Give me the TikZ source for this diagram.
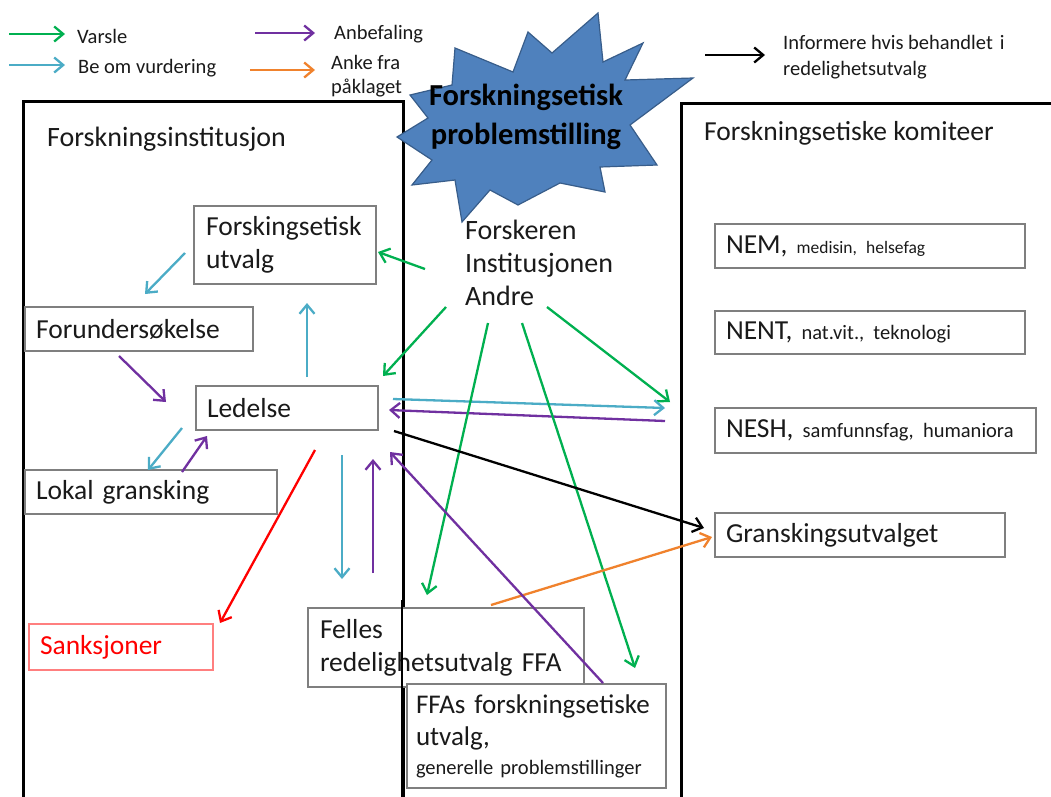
\documentclass[tikz,border=0pt]{standalone}
\usepackage{fontspec}
\setmainfont{Carlito}
\usetikzlibrary{arrows.meta}
\definecolor{cgreen}{HTML}{00B050}
\definecolor{ccyan}{HTML}{4BACC6}
\definecolor{cpurple}{HTML}{7030A0}
\definecolor{corange}{HTML}{F0822D}
\definecolor{cred}{HTML}{FF0000}
\definecolor{redborder}{HTML}{FF7F7F}
\definecolor{starblue}{HTML}{4F81BD}
\definecolor{stardark}{HTML}{385D8A}
\definecolor{boxgray}{HTML}{7F7F7F}
\definecolor{txt}{HTML}{1A1A1A}
\newcommand\fsz[2]{\fontsize{#1}{#2}\selectfont}
\frenchspacing
\begin{document}
\begin{tikzpicture}[x=1pt,y=-1pt,
  arr/.style={line width=2.3pt,-{Straight Barb[length=9pt,width=15pt]}},
  box/.style={draw=boxgray,line width=1.3pt,fill=white,rectangle,align=left,
    inner xsep=11pt,inner ysep=0pt,text=txt,font=\fsz{27.5}{33}},
  frame/.style={draw=black,line width=2.6pt},
  lbl/.style={anchor=west,inner sep=0pt,align=left,text=txt}
]
\useasboundingbox (0,0) rectangle (1051,796);
\fill[white] (0,0) rectangle (1051,796);

% ---------- legend ----------
\coordinate (lgs) at (9,34);   \coordinate (lge) at (65,34);
\coordinate (lcs) at (9,65);   \coordinate (lce) at (65,65);
\coordinate (lps) at (255,33); \coordinate (lpe) at (315,33);
\coordinate (los) at (250,70); \coordinate (loe) at (315,70);
\coordinate (lks) at (705,55); \coordinate (lke) at (765,55);
\draw[arr,cgreen] (lgs) -- (lge);
\draw[arr,ccyan] (lcs) -- (lce);
\draw[arr,cpurple] (lps) -- (lpe);
\draw[arr,corange] (los) -- (loe);
\draw[arr,black] (lks) -- (lke);
\node[lbl,font=\fsz{20.5}{24}] (tvarsle) at (77,36) {Varsle};
\node[lbl,font=\fsz{20.5}{24}] (tbeom) at (78,68) {Be om vurdering};
\node[lbl,font=\fsz{20.5}{24}] (tanbef) at (334,34) {Anbefaling};
\node[lbl,font=\fsz{20.5}{24}] (tanke) at (331,76) {Anke fra\\påklaget};
\node[lbl,font=\fsz{20.5}{26}] (tinfo) at (783,57) {Informere hvis behandlet\hspace{7pt}i\\redelighetsutvalg};

% ---------- frames ----------
\node[frame,anchor=north west,minimum width=380pt,minimum height=720pt,inner sep=0pt] (inst) at (22,100) {};
\node[frame,anchor=north west,minimum width=400pt,minimum height=720pt,inner sep=0pt] (kom) at (680,102) {};
\node[lbl,font=\fsz{28}{30}] (tinst) at (47,139) {Forskningsinstitusjon};
\node[lbl,font=\fsz{27.5}{30}] (tkom) at (704,133) {Forskningsetiske komiteer};

% ---------- star ----------
\draw[fill=starblue,draw=stardark,line width=1.2pt]
  (598,13) -- (603,62) -- (643,43) -- (625,80) -- (693,78) -- (630,125)
  -- (657,165) -- (600,167) -- (605,192) -- (560,183) -- (518,205)
  -- (490,190) -- (462,222) -- (455,180) -- (412,185) -- (432,160)
  -- (397,137) -- (428,118) -- (410,95) -- (452,85) -- (455,48)
  -- (513,72) -- (528,32) -- (552,53) -- cycle;
\node[align=center,inner sep=0pt,font=\fsz{30.5}{39}\bfseries,text=black] (tstar) at (526,117)
  {Forskningsetisk\\problemstilling};

% ---------- boxes ----------
\node[box,minimum width=182pt,minimum height=78pt,text width=158pt,inner xsep=12pt] (fu) at (285,245) {Forskingsetisk\\utvalg};
\node[box,minimum width=228pt,minimum height=44pt,text width=206pt] (fo) at (139,329) {Forundersøkelse};
\node[box,minimum width=182pt,minimum height=44pt,text width=160pt] (le) at (287,408) {Ledelse};
\node[box,minimum width=252pt,minimum height=44pt,text width=230pt] (lg) at (151,492) {Lokal gransking};
\node[box,draw=redborder,text=cred,minimum width=184pt,minimum height=46pt,text width=162pt] (sa) at (121,647) {Sanksjoner};
\node[box,minimum width=274pt,minimum height=79pt,text width=252pt,inner xsep=12pt] (fe) at (446,647.5) {Felles\\redelighetsutvalg FFA};
\draw[line width=2.6pt] (402,600) -- (402,800);
\node[box,font=\fsz{27}{32},minimum width=259pt,minimum height=104pt,text width=241pt,inner xsep=9pt] (ff) at (536.5,736)
  {FFAs forskningsetiske\\utvalg,\\[-3pt]{\fsz{20.5}{24}generelle\hspace{7pt}problemstillinger}};
\node[lbl,font=\fsz{28}{33}] (tfa) at (465,263) {Forskeren\\Institusjonen\\Andre};

\node[box,minimum width=310pt,minimum height=44pt,text width=288pt] (nem) at (870,246)
  {NEM, {\fsz{17.5}{20}medisin, helsefag}};
\node[box,minimum width=310pt,minimum height=43pt,text width=288pt] (nent) at (870,332.5)
  {NENT, {\fsz{20.5}{24}nat.vit., teknologi}};
\node[box,minimum width=321pt,minimum height=45pt,text width=299pt] (nesh) at (875.5,430.5)
  {NESH, {\fsz{20.5}{24}samfunnsfag, humaniora}};
\node[box,minimum width=290pt,minimum height=44pt,text width=268pt] (gr) at (860,535) {Granskingsutvalget};

% ---------- connectors ----------
\coordinate (a1s) at (185,253);  \coordinate (a1e) at (145,294);
\coordinate (a2s) at (119,356);  \coordinate (a2e) at (166,402);
\coordinate (a3s) at (307,377);  \coordinate (a3e) at (307,303);
\coordinate (a4s) at (182,428);  \coordinate (a4e) at (148,470);
\coordinate (a5s) at (182,472);  \coordinate (a5e) at (207,436);
\coordinate (a6s) at (425,269);  \coordinate (a6e) at (378,252);
\coordinate (a7s) at (446,307);  \coordinate (a7e) at (383,376);
\coordinate (a8s) at (547,307);  \coordinate (a8e) at (670,402);
\coordinate (a9s) at (393,399);  \coordinate (a9e) at (665,408);
\coordinate (a10s) at (665,421); \coordinate (a10e) at (389,410);
\coordinate (a11s) at (488,323); \coordinate (a11e) at (427,595);
\coordinate (a12s) at (522,323); \coordinate (a12e) at (635,668);
\coordinate (a13s) at (394,431); \coordinate (a13e) at (704,528);
\coordinate (a14s) at (491,605); \coordinate (a14e) at (712,537);
\coordinate (a15s) at (603,683); \coordinate (a15e) at (390,452);
\coordinate (a16s) at (315,450); \coordinate (a16e) at (220,623);
\coordinate (a17s) at (342,455); \coordinate (a17e) at (342,579);
\coordinate (a18s) at (373,573); \coordinate (a18e) at (373,459);

\draw[arr,ccyan] (a1s) -- (a1e);
\draw[arr,cpurple] (a2s) -- (a2e);
\draw[arr,ccyan] (a3s) -- (a3e);
\draw[arr,ccyan] (a4s) -- (a4e);
\draw[arr,cpurple] (a5s) -- (a5e);
\draw[arr,cgreen] (a6s) -- (a6e);
\draw[arr,cgreen] (a7s) -- (a7e);
\draw[arr,cgreen] (a8s) -- (a8e);
\draw[arr,ccyan] (a9s) -- (a9e);
\draw[arr,cpurple] (a10s) -- (a10e);
\draw[arr,cgreen] (a11s) -- (a11e);
\draw[arr,cgreen] (a12s) -- (a12e);
\draw[arr,black] (a13s) -- (a13e);
\draw[arr,corange] (a14s) -- (a14e);
\draw[arr,cpurple] (a15s) -- (a15e);
\draw[arr,cred] (a16s) -- (a16e);
\draw[arr,ccyan] (a17s) -- (a17e);
\draw[arr,cpurple] (a18s) -- (a18e);
\end{tikzpicture}
\end{document}
